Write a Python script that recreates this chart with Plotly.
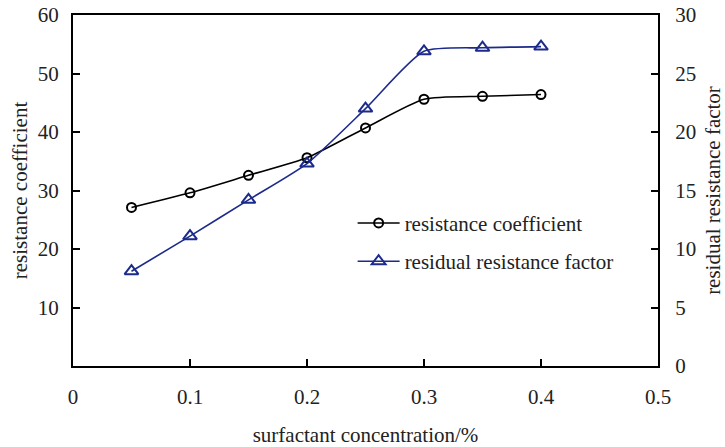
import plotly.graph_objects as go

concentration = [0.05, 0.10, 0.15, 0.20, 0.25, 0.30, 0.35, 0.40]
resistance_coefficient = [27.1, 29.6, 32.6, 35.6, 40.7, 45.6, 46.1, 46.4]
residual_resistance_factor = [8.1, 11.1, 14.2, 17.3, 22.0, 26.9, 27.2, 27.3]

x_ticks = [0, 0.1, 0.2, 0.3, 0.4, 0.5]
x_tick_text = ["0", "0.1", "0.2", "0.3", "0.4", "0.5"]
y1_ticks = [10, 20, 30, 40, 50, 60]
y2_ticks = [0, 5, 10, 15, 20, 25, 30]

FONT = "Liberation Serif, Times New Roman, serif"
BLUE = "#1c2a8c"

fig = go.Figure()
fig.add_trace(go.Scatter(
    x=concentration, y=resistance_coefficient, name="resistance coefficient",
    mode="lines+markers", line=dict(color="black", width=1.6, shape="spline", smoothing=0.6),
    marker=dict(symbol="circle-open", size=9, color="black", line=dict(width=2)),
    legendgroup="a",
))
fig.add_trace(go.Scatter(
    x=concentration, y=residual_resistance_factor, name="residual resistance factor",
    mode="lines+markers", line=dict(color=BLUE, width=1.6, shape="spline", smoothing=0.6),
    marker=dict(symbol="triangle-up-open", size=12, color=BLUE, line=dict(width=2)),
    yaxis="y2", legendgroup="b",
))

fig.update_layout(
    width=725, height=447,
    margin=dict(l=73, r=67, t=15, b=81),
    paper_bgcolor="white", plot_bgcolor="white",
    font=dict(family=FONT, size=21, color="#222"),
    showlegend=True,
    legend=dict(x=0.478, y=0.465, xanchor="left", yanchor="top",
                bgcolor="rgba(0,0,0,0)", font=dict(size=21), itemwidth=42,
                tracegroupgap=8, traceorder="grouped"),
    xaxis=dict(
        range=[0, 0.5], tickvals=x_ticks, ticktext=x_tick_text,
        ticks="inside", ticklen=7, tickwidth=1.5, tickcolor="black",
        showline=True, linecolor="black", linewidth=2, mirror=True,
        showgrid=False, zeroline=False, ticklabelstandoff=11, automargin=False,
        title=dict(text="surfactant concentration/%", standoff=20, font=dict(size=21)),
    ),
    yaxis=dict(
        range=[0, 60], tickvals=y1_ticks,
        ticks="inside", ticklen=7, tickwidth=1.5, tickcolor="black",
        showline=True, linecolor="black", linewidth=2,
        showgrid=False, zeroline=False, ticklabelstandoff=8, automargin=False,
        title=dict(text="resistance coefficient", standoff=4, font=dict(size=21)),
    ),
    yaxis2=dict(
        range=[0, 30], tickvals=y2_ticks, overlaying="y", side="right",
        ticks="inside", ticklen=7, tickwidth=1.5, tickcolor="black",
        showline=True, linecolor="black", linewidth=2,
        showgrid=False, zeroline=False, ticklabelstandoff=11, automargin=False,
        title=dict(text="residual resistance factor", standoff=14, font=dict(size=21)),
    ),
)

fig.write_html("out.html", config={"displayModeBar": False},
               post_script="document.body.style.margin='0px';")
